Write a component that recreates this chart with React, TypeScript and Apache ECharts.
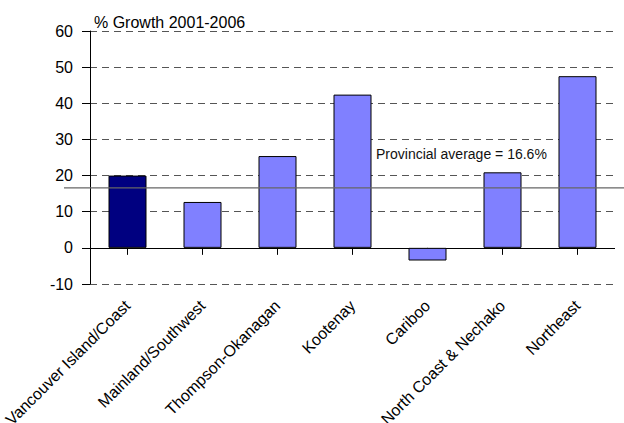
import React, { useEffect, useRef } from "react";
import * as echarts from "echarts";

const categories = [
  "Vancouver Island/Coast",
  "Mainland/Southwest",
  "Thompson-Okanagan",
  "Kootenay",
  "Cariboo",
  "North Coast & Nechako",
  "Northeast",
];
const growthPct = [20.0, 12.7, 25.4, 42.4, -3.5, 20.9, 47.5];
const highlighted = ["Vancouver Island/Coast"];
const provincialAverage = 16.6;
const chartTitle = "% Growth 2001-2006";
const averageLabel = "Provincial average = 16.6%";
const yMin = -10;
const yMax = 60;
const yStep = 10;

const FONT = "'Liberation Sans', Arial, sans-serif";
const HIGHLIGHT_COLOR = "#000080";
const BAR_COLOR = "#8080ff";

export default function App() {
  const ref = useRef<HTMLDivElement>(null);

  useEffect(() => {
    document.body.style.margin = "0";
    const chart = echarts.init(ref.current!, null, { renderer: "svg" });
    chart.setOption({
      animation: false,
      backgroundColor: "#ffffff",
      textStyle: { fontFamily: FONT },
      title: {
        text: chartTitle,
        left: 89,
        top: 9,
        textStyle: { fontFamily: FONT, fontSize: 16, fontWeight: "normal", color: "#000" },
      },
      grid: {
        left: 90,
        right: 9,
        top: 31,
        bottom: 139,
        containLabel: false,
        outerBoundsMode: "none",
      },
      xAxis: {
        type: "category",
        data: categories,
        boundaryGap: true,
        axisLine: { show: false },
        axisTick: { show: true, alignWithLabel: true, length: 7, lineStyle: { color: "#000", width: 1 } },
        axisLabel: {
          rotate: 45,
          interval: 0,
          margin: 19,
          fontSize: 16,
          fontFamily: FONT,
          color: "#000",
          hideOverlap: false,
        },
        splitLine: { show: false },
      },
      yAxis: {
        type: "value",
        min: yMin,
        max: yMax,
        interval: yStep,
        axisLine: { show: true, lineStyle: { color: "#000", width: 1 } },
        axisTick: { show: true, inside: false, length: 8, lineStyle: { color: "#000", width: 1 } },
        axisLabel: { margin: 17, fontSize: 16, fontFamily: FONT, color: "#000" },
        splitLine: { show: true, lineStyle: { color: "#555", width: 1.2, type: [7, 5] } },
      },
      series: [
        {
          type: "bar",
          barWidth: 38,
          data: growthPct.map((v, i) => ({
            value: v,
            itemStyle: {
              color: highlighted.includes(categories[i]) ? HIGHLIGHT_COLOR : BAR_COLOR,
              borderColor: "#000",
              borderWidth: 1,
            },
          })),
          markLine: {
            silent: true,
            symbol: "none",
            label: { show: false },
            lineStyle: { color: "#000", width: 1, type: "solid" },
            data: [{ yAxis: 0 }],
            z: 1,
          },
        },
      ],
    });

    const avgY = chart.convertToPixel({ yAxisIndex: 0 }, provincialAverage) as number;
    chart.setOption({
      graphic: [
        {
          type: "line",
          shape: { x1: 64, y1: avgY, x2: 624, y2: avgY },
          style: { stroke: "#666", lineWidth: 1.3 },
          z: 100,
        },
        {
          type: "text",
          x: 376,
          y: avgY - 34,
          style: {
            text: averageLabel,
            font: `14px ${FONT}`,
            fill: "#111",
            textAlign: "left",
            textVerticalAlign: "middle",
          },
          z: 100,
        },
      ],
    });

    return () => chart.dispose();
  }, []);

  return (
    <div
      ref={ref}
      style={{ position: "fixed", left: 0, top: 0, width: 624, height: 423 }}
    />
  );
}
